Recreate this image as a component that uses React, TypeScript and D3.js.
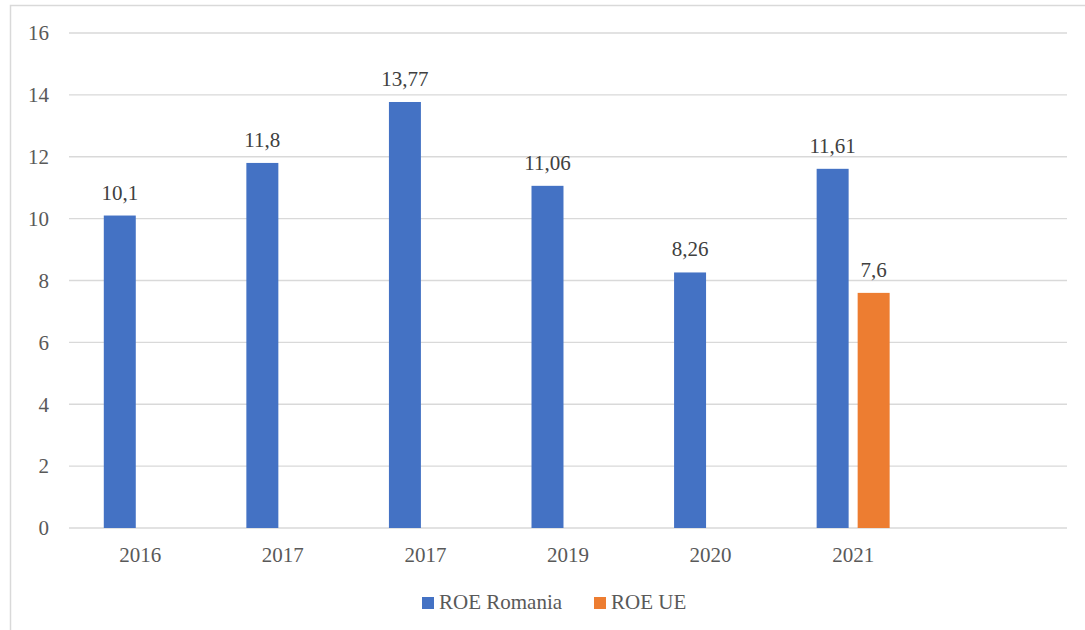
import React, { useRef, useEffect } from 'react';
import * as d3 from 'd3';

const categories = ['2016', '2017', '2017 ', '2019', '2020', '2021', ''];
const roeRomania: (number | null)[] = [10.1, 11.8, 13.77, 11.06, 8.26, 11.61, null];
const roeUE: (number | null)[] = [null, null, null, null, null, 7.6, null];
const yTicks = [0, 2, 4, 6, 8, 10, 12, 14, 16];

const series = [
    { key: 'ro', name: 'ROE Romania', color: '#4472C4', values: roeRomania },
    { key: 'ue', name: 'ROE UE', color: '#ED7D31', values: roeUE },
];

const W = 1085;
const H = 630;
const FONT = "'Liberation Serif', 'DejaVu Serif'";
const TEXT = '#595959';

const App: React.FC = () => {
    const svgRef = useRef<SVGSVGElement | null>(null);

    useEffect(() => {
        if (!svgRef.current) return;
        const svg = d3.select(svgRef.current);
        svg.selectAll('*').remove();

        const plot = { left: 69, right: 1067, top: 33, bottom: 528 };

        // frame
        svg.append('rect')
            .attr('x', 10.5).attr('y', 5.5)
            .attr('width', W + 20).attr('height', H + 20)
            .attr('fill', 'white')
            .attr('stroke', '#d9d9d9')
            .attr('stroke-width', 1.5);

        const x0 = d3.scaleBand<string>()
            .domain(categories)
            .range([plot.left, plot.right])
            .padding(0);

        const groupW = x0.bandwidth() * 0.512;
        const x1 = d3.scaleBand<string>()
            .domain(series.map(s => s.key))
            .range([0, groupW])
            .paddingInner(0.22)
            .paddingOuter(0);

        const y = d3.scaleLinear().domain([0, 16]).range([plot.bottom, plot.top]);

        const g = svg.append('g').style('font-family', FONT).style('font-size', '21px');

        // --- GRID ---
        g.append('g').selectAll('line')
            .data(yTicks)
            .join('line')
            .attr('x1', plot.left).attr('x2', plot.right)
            .attr('y1', d => y(d)).attr('y2', d => y(d))
            .attr('stroke', '#d9d9d9')
            .attr('stroke-width', 1.3);

        // --- Y LABELS ---
        g.append('g').selectAll('text')
            .data(yTicks)
            .join('text')
            .attr('x', 49)
            .attr('y', d => y(d))
            .attr('dy', '0.35em')
            .attr('text-anchor', 'end')
            .attr('fill', TEXT)
            .text(d => String(d));

        // --- X LABELS ---
        g.append('g').selectAll('text')
            .data(categories)
            .join('text')
            .attr('x', d => (x0(d) as number) + x0.bandwidth() / 2)
            .attr('y', 562)
            .attr('text-anchor', 'middle')
            .attr('fill', TEXT)
            .text(d => d.trim());

        // --- BARS ---
        const fmt = (v: number) => String(v).replace('.', ',');
        series.forEach(s => {
            const pts = categories
                .map((c, i) => ({ c, v: s.values[i] }))
                .filter(p => p.v !== null) as { c: string; v: number }[];
            const gx = (c: string) => (x0(c) as number) + (x0.bandwidth() - groupW) / 2 + (x1(s.key) as number);

            g.append('g').selectAll('rect')
                .data(pts)
                .join('rect')
                .attr('x', d => gx(d.c))
                .attr('y', d => y(d.v))
                .attr('width', x1.bandwidth())
                .attr('height', d => y(0) - y(d.v))
                .attr('fill', s.color);

            g.append('g').selectAll('text')
                .data(pts)
                .join('text')
                .attr('x', d => gx(d.c) + x1.bandwidth() / 2)
                .attr('y', d => y(d.v) - 16)
                .attr('text-anchor', 'middle')
                .attr('fill', '#404040')
                .text(d => fmt(d.v));
        });

        // --- LEGEND ---
        const legendX = [422, 594];
        const lg = g.append('g');
        series.forEach((s, i) => {
            lg.append('rect')
                .attr('x', legendX[i]).attr('y', 597)
                .attr('width', 12).attr('height', 12)
                .attr('fill', s.color);
            lg.append('text')
                .attr('x', legendX[i] + 17)
                .attr('y', 609)
                .attr('fill', TEXT)
                .text(s.name);
        });
    }, []);

    return (
        <svg
            ref={svgRef}
            width={W}
            height={H}
            style={{ position: 'absolute', left: 0, top: 0, background: 'white' }}
        />
    );
};

export default App;
